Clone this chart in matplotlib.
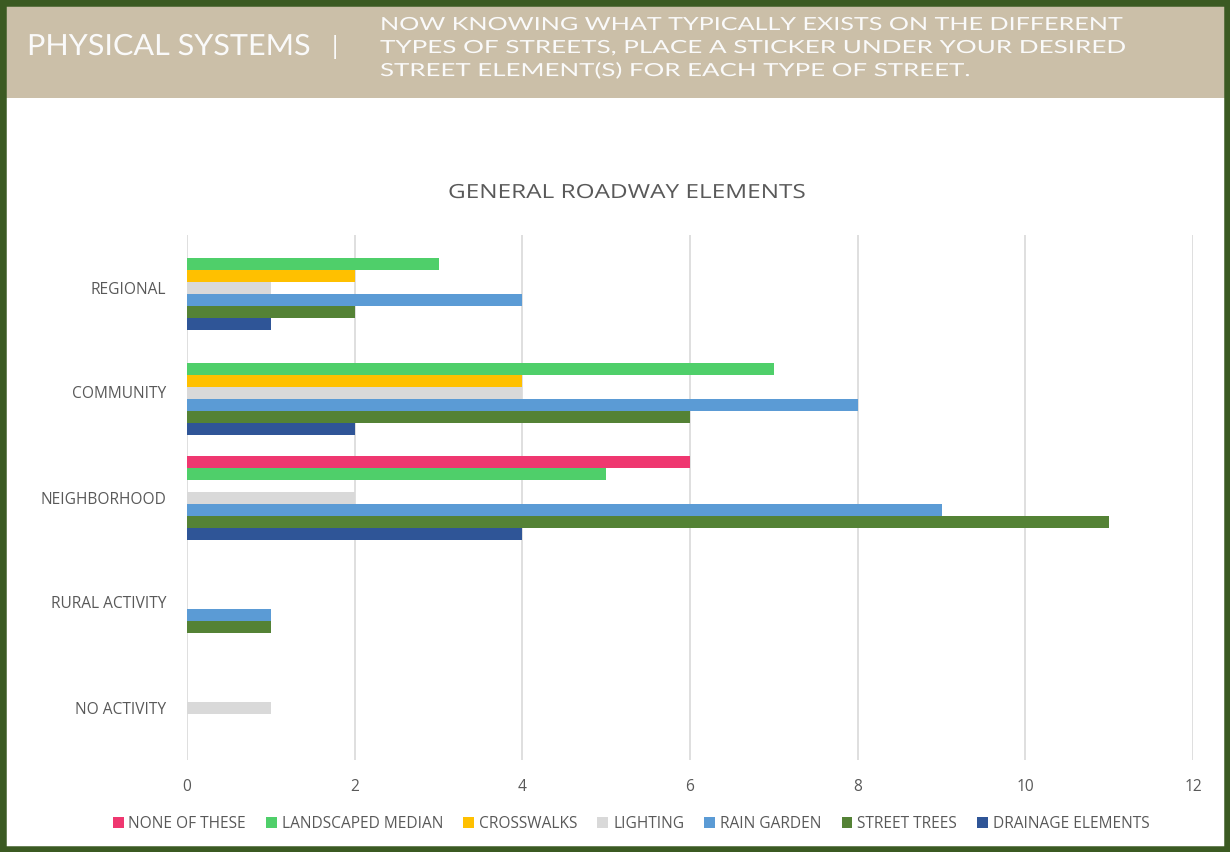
import matplotlib
matplotlib.use("Agg")
import matplotlib.pyplot as plt
from matplotlib.patches import Rectangle, Patch
from matplotlib.patheffects import AbstractPathEffect
from matplotlib.transforms import Affine2D
import numpy as np

# data
categories = ["REGIONAL", "COMMUNITY", "NEIGHBORHOOD", "RURAL ACTIVITY", "NO ACTIVITY"]
series_names = ["NONE OF THESE", "LANDSCAPED MEDIAN", "CROSSWALKS", "LIGHTING",
                "RAIN GARDEN", "STREET TREES", "DRAINAGE ELEMENTS"]
none_of_these = [0, 0, 6, 0, 0]
landscaped_median = [3, 7, 5, 0, 0]
crosswalks = [2, 4, 0, 0, 0]
lighting = [1, 4, 2, 0, 1]
rain_garden = [4, 8, 9, 1, 0]
street_trees = [2, 6, 11, 1, 0]
drainage = [1, 2, 4, 0, 0]
x_ticks = [0, 2, 4, 6, 8, 10, 12]

colors = ["#EF3770", "#4FCF6A", "#FFC000", "#D9D9D9", "#5B9BD5", "#548235", "#2F5597"]
values = [none_of_these, landscaped_median, crosswalks, lighting, rain_garden, street_trees, drainage]

txt = "#595959"
plt.rcParams['font.family'] = ['Open Sans', 'DejaVu Sans']


class Stretch(AbstractPathEffect):
    # widen text horizontally around its start point (mimics letter spacing)
    def __init__(self, sx):
        super().__init__()
        self.sx = sx

    def draw_path(self, renderer, gc, tpath, affine, rgbFace=None):
        m = affine.get_matrix().copy()
        m[0, 0] *= self.sx
        m[1, 0] *= self.sx
        renderer.draw_path(gc, tpath, Affine2D(m), rgbFace)


def stretched_text(fig, x_px, y_px, s, width_px, **kw):
    t = fig.text(x_px / 1230, 1 - y_px / 852, s, ha='left', va='center', **kw)
    w = t.get_window_extent(fig.canvas.get_renderer()).width
    t.set_path_effects([Stretch(width_px / w)])
    return t


fig = plt.figure(figsize=(12.3, 8.52), dpi=100)

# header band and frame
fig.patches.append(Rectangle((0, 1 - 98 / 852), 1, 98 / 852, transform=fig.transFigure,
                             facecolor="#CBBFA8", edgecolor="none", zorder=0))
fig.patches.append(Rectangle((0, 0), 1, 1, transform=fig.transFigure, fill=False,
                             edgecolor="#3B5A22", linewidth=9, zorder=5))

stretched_text(fig, 27, 47, "PHYSICAL SYSTEMS", 283, color="#FAFAFA", fontsize=21,
               family=['Lato', 'DejaVu Sans'])
fig.text(335 / 1230, 1 - 47 / 852, "|", color="#FAFAFA", fontsize=18,
         family=['Lato', 'DejaVu Sans'], va='center', ha='center')
lines = ["NOW KNOWING WHAT TYPICALLY EXISTS ON THE DIFFERENT",
         "TYPES OF STREETS, PLACE A STICKER UNDER YOUR DESIRED",
         "STREET ELEMENT(S) FOR EACH TYPE OF STREET."]
line_widths = [740, 743, 588]
for i, ln in enumerate(lines):
    stretched_text(fig, 380, 25 + 23 * i, ln, line_widths[i], color="#FAFAFA", fontsize=13,
                   family=['Lato', 'DejaVu Sans'])

ax = fig.add_axes([187 / 1230, 92 / 852, (1193 - 187) / 1230, (760 - 235) / 852])

n = len(series_names)
slot = 0.8 / n
y = np.arange(len(categories))
for i in range(n):
    offs = -0.4 + slot * (i + 0.5)
    ax.barh(y + offs, values[i], height=slot, color=colors[i], label=series_names[i], zorder=3)

ax.set_ylim(len(categories) - 0.5, -0.5)
ax.set_xlim(0, 12)
ax.set_xticks(x_ticks)
ax.set_yticks(y)
ax.set_yticklabels(categories)
ax.grid(axis='x', color="#D9D9D9", linewidth=1.2, zorder=0)
for s in ax.spines.values():
    s.set_visible(False)
ax.tick_params(axis='both', length=0, colors=txt, labelsize=11.2)
ax.tick_params(axis='y', pad=15)
ax.tick_params(axis='x', pad=14)

stretched_text(fig, 448, 193, "GENERAL ROADWAY ELEMENTS", 359, color=txt, fontsize=14)

handles = [Patch(facecolor=c, edgecolor='none') for c in colors]
fig.legend(handles, series_names, loc='center', bbox_to_anchor=(631 / 1230, 1 - 824 / 852),
           ncol=n, frameon=False, fontsize=11.2, labelcolor=txt, handlelength=0.7,
           handleheight=0.7, handletextpad=0.3, columnspacing=1.3)

fig.savefig("out.png", dpi=100)
